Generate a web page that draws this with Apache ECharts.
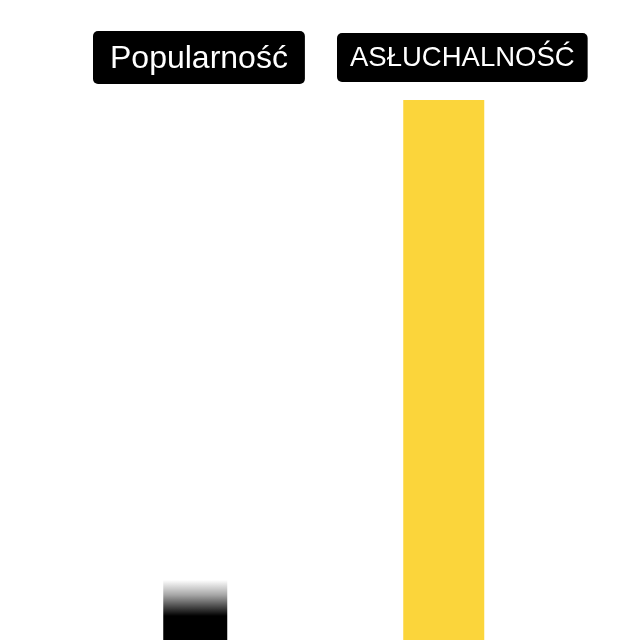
<!DOCTYPE html>
<html>
<head>
<meta charset="utf-8">
<script src="https://cdn.jsdelivr.net/npm/echarts@6/dist/echarts.min.js"></script>
<style>
  html, body { margin: 0; padding: 0; background: #fff; }
  #chart { width: 640px; height: 640px; }
</style>
</head>
<body>
<div id="chart"></div>
<script>
// dane
var categories = ['Popularność', 'Słuchalność'];
var labels = ['Popularność', 'ASŁUCHALNOŚĆ'];
var values = [10, 90];

var myChart = echarts.init(document.getElementById('chart'));

var fontName = '"Liberation Sans", Arial, sans-serif';

var option = {
	backgroundColor: '#ffffff',
	animation: false,
	title: [{
		text: labels[0],
		left: 93,
		top: 31,
		padding: [12, 17, 8, 17],
		backgroundColor: '#000',
		borderRadius: 5,
		textStyle: {
			color: '#fff',
			fontFamily: fontName,
			fontSize: 32,
			fontWeight: 'normal',
			lineHeight: 33,
		},
	}, {
		text: labels[1],
		left: 337,
		top: 33,
		padding: [10, 13, 8, 13],
		backgroundColor: '#000',
		borderRadius: 5,
		textStyle: {
			color: '#fff',
			fontFamily: fontName,
			fontSize: 27.5,
			fontWeight: 'normal',
			lineHeight: 31,
		},
	}],
	grid: {
		left: 71,
		right: 72,
		top: 40,
		bottom: 0,
	},
	xAxis: [{
		type: 'category',
		data: categories,
		show: false,
	}, {
		type: 'category',
		data: categories,
		show: false,
	}],
	yAxis: {
		type: 'value',
		min: 0,
		max: 100,
		show: false,
	},
	series: [{
		name: categories[0],
		type: 'bar',
		xAxisIndex: 0,
		barWidth: 64,
		data: [values[0], '-'],
		itemStyle: {
			color: new echarts.graphic.LinearGradient(0, 0, 0, 1, [
				{ offset: 0, color: 'rgba(0,0,0,0)' },
				{ offset: 0.25, color: 'rgba(0,0,0,0.35)' },
				{ offset: 0.6, color: 'rgba(0,0,0,1)' },
				{ offset: 1, color: 'rgba(0,0,0,1)' },
			]),
		},
	}, {
		name: categories[1],
		type: 'bar',
		xAxisIndex: 1,
		barWidth: 81,
		data: ['-', values[1]],
		itemStyle: {
			color: '#FBD53B',
		},
	}],
};

myChart.setOption(option);
</script>
</body>
</html>
